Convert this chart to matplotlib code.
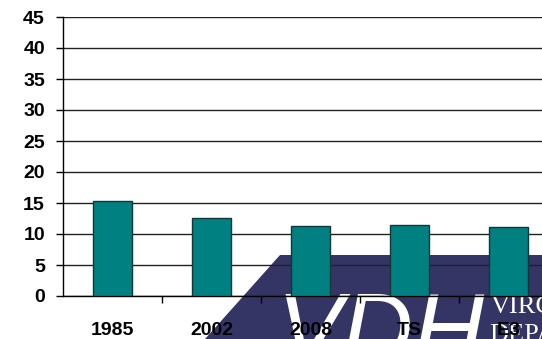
import matplotlib
matplotlib.use("Agg")
import matplotlib.pyplot as plt
from matplotlib.patches import Polygon
import numpy as np

W, H, DPI = 542, 339, 100

categories = ["1985", "2002", "2008", "TS", "E3"]
values = [15.3, 12.6, 11.3, 11.5, 11.1]
yticks = list(range(0, 50, 5))

plt.rcParams['font.family'] = ['Liberation Sans', 'DejaVu Sans']

fig = plt.figure(figsize=(W / DPI, H / DPI), dpi=DPI)
fig.patch.set_facecolor('white')

# background logo (navy band with white lettering)
def px(x, y):
    return (x / W, 1 - y / H)

band = Polygon([px(280, 255), px(542, 255), px(542, 339), px(205, 339)],
               closed=True, transform=fig.transFigure,
               facecolor='#343465', edgecolor='none', zorder=0.5)
fig.patches.append(band)
fig.text(*px(276, 362), "VDH", color='white', fontsize=71, style='italic',
         family='Liberation Sans', ha='left', va='baseline', zorder=0.6)
fig.text(*px(491, 313), "VIRG", color='white', fontsize=19,
         family='Liberation Serif', ha='left', va='baseline', zorder=0.6)
fig.text(*px(489, 341), "DEPAR", color='white', fontsize=19,
         family='Liberation Serif', ha='left', va='baseline', zorder=0.6)

# axes: left 63px, bottom 296px, top 17px, 99px per category (clipped at right)
ax = fig.add_axes([63 / W, 43 / H, (W - 63) / W, 279 / H])
ax.set_zorder(1)
ax.patch.set_alpha(0)

x = np.arange(len(categories))
ax.bar(x, values, width=0.4, color='#008080', edgecolor='#103838',
       linewidth=1, zorder=3)

ax.set_yticks(yticks)
ax.set_yticklabels([str(v) for v in yticks], fontsize=14, fontweight='bold')
ax.yaxis.grid(True, color='#222222', linewidth=1, zorder=1)
ax.set_axisbelow(True)

ax.set_xticks(x)
ax.set_xticklabels(categories, fontsize=14, fontweight='bold')
ax.set_xticks(np.arange(len(categories) - 1) + 0.5, minor=True)
ax.tick_params(axis='x', which='major', length=0, pad=19)
ax.tick_params(axis='x', which='minor', length=5, width=1, direction='out')
ax.tick_params(axis='y', length=5, width=1, pad=8, direction='out')

ax.set_ylim(0, 45)
ax.set_xlim(-0.5, -0.5 + (W - 63) / 99)

for s in ['top', 'right']:
    ax.spines[s].set_visible(False)
ax.spines['left'].set_linewidth(1)
ax.spines['bottom'].set_linewidth(1)

fig.savefig("out.png", dpi=DPI)
